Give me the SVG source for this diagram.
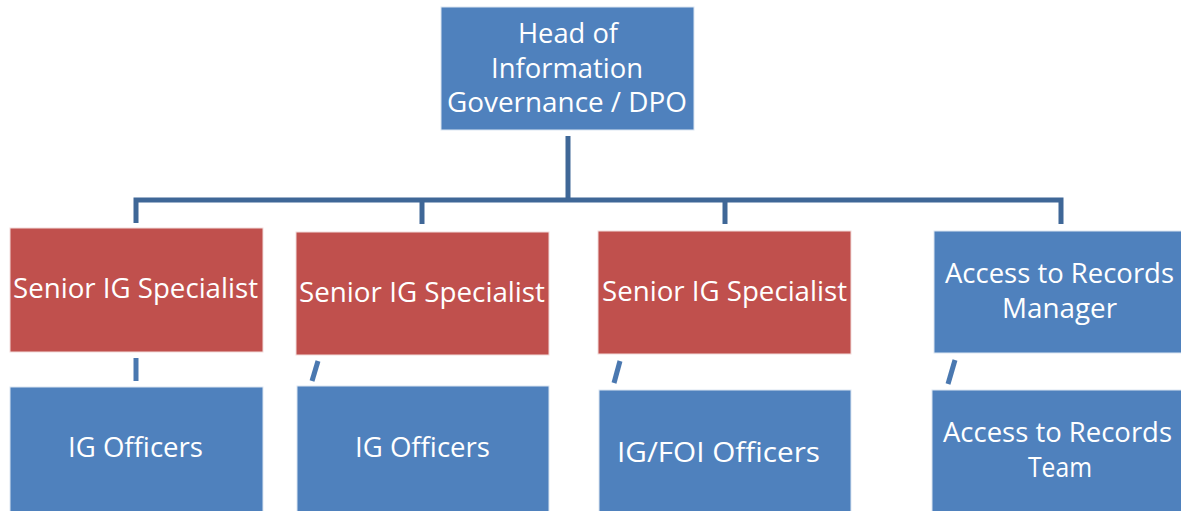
<svg xmlns="http://www.w3.org/2000/svg" width="1181" height="511" viewBox="0 0 1181 511">
<style>
.blue{fill:#4F81BD;stroke:#DCE6F2;stroke-width:1}
.red{fill:#C0504D;stroke:#F2DCDB;stroke-width:1}
.t{font-family:"Open Sans","Noto Sans",sans-serif;font-size:27px;fill:#FFFFFF;text-anchor:middle}
.c{fill:none;stroke:#3F6797;stroke-width:5}
.s{fill:none;stroke:#4A78B0;stroke-width:5}
</style>
<rect width="1181" height="511" fill="#FFFFFF"/>
<g id="connectors">
<path class="c" d="M568,136 V200"/>
<path class="c" d="M136,223 V200 H1061 V224"/>
<path class="c" d="M422,200 V224"/>
<path class="c" d="M725,200 V224"/>
<path class="s" d="M136,358 V381"/>
<path class="s" d="M318,361 L312,381"/>
<path class="s" d="M620,361 L614,383"/>
<path class="s" d="M955,360 L948,384"/>
</g>
<g id="head">
<rect class="blue" x="441" y="7" width="253" height="123"/>
<text class="t" x="568" y="43" textLength="100" lengthAdjust="spacingAndGlyphs">Head of</text>
<text class="t" x="567" y="78" textLength="152" lengthAdjust="spacingAndGlyphs">Information</text>
<text class="t" x="567" y="112" textLength="240" lengthAdjust="spacingAndGlyphs">Governance / DPO</text>
</g>
<g id="senior1">
<rect class="red" x="10" y="228" width="253" height="124"/>
<text class="t" x="135.5" y="298" textLength="245" lengthAdjust="spacingAndGlyphs">Senior IG Specialist</text>
</g>
<g id="senior2">
<rect class="red" x="296" y="232" width="253" height="123"/>
<text class="t" x="422" y="302" textLength="246" lengthAdjust="spacingAndGlyphs">Senior IG Specialist</text>
</g>
<g id="senior3">
<rect class="red" x="598" y="231" width="253" height="123"/>
<text class="t" x="724.5" y="301" textLength="245" lengthAdjust="spacingAndGlyphs">Senior IG Specialist</text>
</g>
<g id="atr-manager">
<rect class="blue" x="934" y="231" width="252" height="122"/>
<text class="t" x="1059.5" y="283" textLength="229" lengthAdjust="spacingAndGlyphs">Access to Records</text>
<text class="t" x="1059.5" y="318" textLength="115" lengthAdjust="spacingAndGlyphs">Manager</text>
</g>
<g id="ig-officers1">
<rect class="blue" x="10" y="387" width="253" height="130"/>
<text class="t" x="135.5" y="457" textLength="135" lengthAdjust="spacingAndGlyphs">IG Officers</text>
</g>
<g id="ig-officers2">
<rect class="blue" x="297" y="386" width="252" height="130"/>
<text class="t" x="422.5" y="457" textLength="135" lengthAdjust="spacingAndGlyphs">IG Officers</text>
</g>
<g id="igfoi-officers">
<rect class="blue" x="599" y="390" width="252" height="126"/>
<text class="t" x="718.5" y="462" textLength="203" lengthAdjust="spacingAndGlyphs">IG/FOI Officers</text>
</g>
<g id="atr-team">
<rect class="blue" x="932" y="390" width="254" height="126"/>
<text class="t" x="1057.5" y="442" textLength="229" lengthAdjust="spacingAndGlyphs">Access to Records</text>
<text class="t" x="1060" y="477" textLength="64" lengthAdjust="spacingAndGlyphs">Team</text>
</g>
</svg>
